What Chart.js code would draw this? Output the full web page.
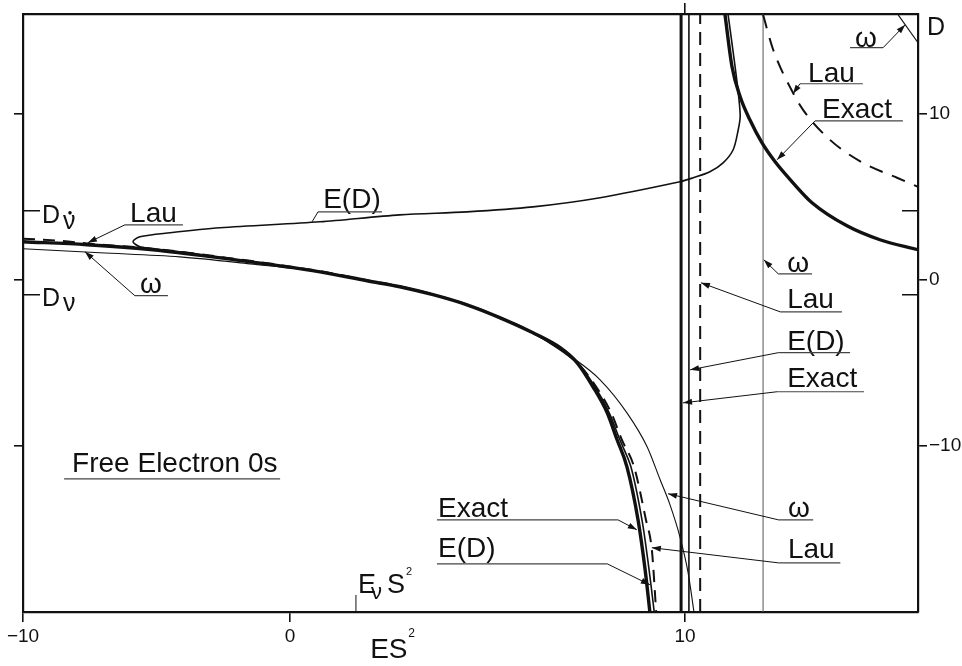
<!DOCTYPE html>
<html lang="en">
<head>
    <meta charset="UTF-8">
    <title>Free Electron 0s</title>
    <script src="https://cdn.jsdelivr.net/npm/chart.js"></script>
    <style>
        body {
            margin: 0;
            background: #fff;
        }
        #wrap {
            width: 962px;
            height: 666px;
        }
    </style>
</head>
<body>
    <div id="wrap"><canvas id="chart" width="962" height="666"></canvas></div>

    <script>
        // axis ticks
        const xTickValues = [-10, 0, 10];
        const xTickLabels = ['−10', '0', '10'];
        const yTickValues = [-10, 0, 10];
        const yTickLabels = ['−10', '0', '10'];

        // curves, [ES², D]
        const exactLower = [[-10, 2.29], [-7.60, 2.11], [-5.13, 1.81], [-2.62, 1.32], [0.76, 0.48], [1.95, -0.06], [2.78, -0.42], [3.62, -0.90], [4.48, -1.51], [5.32, -2.29], [6.15, -3.19], [6.84, -4.09], [7.27, -5.00], [7.67, -6.44], [8.03, -8.01], [8.28, -9.63], [8.53, -11.26], [8.81, -14.45], [8.99, -17.46], [9.11, -20]];
        const exactUpper = [[11.03, 15.95], [11.21, 12.82], [11.42, 11.02], [11.67, 9.63], [11.98, 8.25], [12.32, 7.10], [12.78, 5.84], [13.27, 4.64], [14.17, 3.25], [15.02, 2.41], [16.0, 1.81]];
        const edCurve = [[11.11, 15.95], [11.29, 12.82], [11.39, 10.84], [11.42, 9.81], [11.37, 9.03], [11.24, 7.83], [10.98, 7.04], [10.64, 6.50], [10.21, 6.14], [9.87, 5.90], [7.85, 4.94], [6.15, 4.39], [4.48, 4.09], [2.78, 3.91], [0.76, 3.49], [-2.62, 3.13], [-4.49, 2.83], [-5.62, 2.59], [-5.88, 2.29], [-5.62, 1.99], [-4.87, 1.81], [-3.86, 1.63], [-2.62, 1.35], [0.76, 0.50], [1.95, -0.05], [2.78, -0.41], [3.62, -0.89], [4.48, -1.50], [5.32, -2.28], [6.15, -3.19], [7.27, -5.00], [7.72, -6.44], [8.08, -8.01], [8.35, -9.63], [8.63, -11.26], [8.91, -14.45], [9.09, -17.46], [9.22, -20]];
        const lauLower = [[-10, 2.47], [-8.61, 2.35], [-7.49, 2.17], [-5.13, 1.87], [-2.62, 1.38], [0.76, 0.52], [1.95, -0.03], [2.78, -0.39], [3.62, -0.88], [4.48, -1.49], [5.32, -2.27], [6.15, -3.19], [7.27, -5.00], [7.75, -6.44], [8.13, -8.01], [8.40, -9.63], [8.71, -11.26], [9.01, -14.45], [9.16, -16.26], [9.27, -20]];
        const lauUpper = [[12.01, 15.95], [12.27, 13.85], [12.78, 11.26], [13.04, 10.23], [13.73, 8.43], [14.58, 7.04], [15.46, 6.14], [16.0, 5.60]];
        const omegaLower = [[-10, 1.87], [-7.12, 1.63], [-4.12, 1.38], [-1.50, 0.96], [0.76, 0.48], [1.95, -0.06], [2.78, -0.42], [3.62, -0.90], [4.48, -1.51], [5.32, -2.29], [6.15, -3.19], [7.16, -4.70], [7.85, -6.02], [8.53, -8.01], [9.04, -10.05], [9.37, -12.04], [9.62, -13.55], [9.87, -15.47], [10.08, -17.64], [10.23, -20]];
        const omegaUpper = [[15.49, 15.95], [16.0, 14.27]];

        // vertical asymptotes (ES² values)
        const exactPole = 9.90;
        const edPole = 10.10;
        const lauPole = 10.39;
        const omegaPole = 12.01;

        // D values marked on the side axes, and the E_v S² mark
        const dNuDot = 4.15;
        const dNu = -0.9;
        const eNuS2 = 1.67;

        // the ES² axis is not uniform: -10..0 is shorter than 0..10
        const xBreakValues = [-10, 0, 10, 16];
        const xBreakFrac = [0, 0.2983, 0.7397, 1];

        function toFrac(v) {
            for (let i = 1; i < xBreakValues.length; i++) {
                if (v <= xBreakValues[i] || i === xBreakValues.length - 1) {
                    const a = xBreakValues[i - 1], b = xBreakValues[i];
                    return xBreakFrac[i - 1] + (v - a) / (b - a) * (xBreakFrac[i] - xBreakFrac[i - 1]);
                }
            }
        }
        function fromFrac(f) {
            for (let i = 1; i < xBreakFrac.length; i++) {
                if (f <= xBreakFrac[i] || i === xBreakFrac.length - 1) {
                    const a = xBreakFrac[i - 1], b = xBreakFrac[i];
                    return xBreakValues[i - 1] + (f - a) / (b - a) * (xBreakValues[i] - xBreakValues[i - 1]);
                }
            }
        }

        class PiecewiseScale extends Chart.LinearScale {
            getPixelForValue(value) {
                if (value === null || value === undefined) return NaN;
                return this.getPixelForDecimal(toFrac(value));
            }
            getValueForPixel(pixel) {
                return fromFrac(this.getDecimalForPixel(pixel));
            }
        }
        PiecewiseScale.id = 'piecewise';
        PiecewiseScale.defaults = {};
        Chart.register(PiecewiseScale);

        const ink = '#111';
        const FONT = '"Liberation Sans", Arial, sans-serif';

        // text labels with underline and leader line, all in data units
        const notes = [
            { text: 'Lau', x: -5.99, y: 3.49, line: [-6.18, -4.01, 3.31], tip: [-7.57, 2.23], arrow: true },
            { text: 'ω', x: -5.62, y: -0.78, line: [-5.81, -4.57, -0.96], tip: [-7.68, 1.69], arrow: true },
            { text: 'E(D)', x: 0.84, y: 4.33, line: [0.71, 2.33, 4.09], tip: [0.56, 3.49], arrow: false },
            { text: 'Free Electron 0s', x: -8.16, y: -11.56, line: [-8.46, -0.37, -11.98] },
            { text: 'Exact', x: 3.75, y: -14.27, line: [3.72, 8.30, -14.45], tip: [8.78, -15.05], arrow: true, fromEnd: true },
            { text: 'E(D)', x: 3.75, y: -16.68, line: [3.72, 8.03, -17.10], tip: [9.11, -18.36], arrow: true, fromEnd: true },
            { text: 'ω', x: 12.65, y: -14.27, line: [12.40, 13.30, -14.45], tip: [9.57, -12.88], arrow: true },
            { text: 'Lau', x: 12.65, y: -16.74, line: [12.40, 14.0, -17.04], tip: [9.16, -16.13], arrow: true },
            { text: 'Exact', x: 12.63, y: -6.44, line: [12.37, 14.61, -6.74], tip: [9.95, -7.41], arrow: true },
            { text: 'E(D)', x: 12.63, y: -4.21, line: [12.40, 14.25, -4.39], tip: [10.13, -5.42], arrow: true },
            { text: 'Lau', x: 12.63, y: -1.69, line: [12.45, 14.04, -1.93], tip: [10.41, -0.18], arrow: true },
            { text: 'ω', x: 12.63, y: 0.48, line: [12.40, 13.27, 0.36], tip: [12.03, 1.20], arrow: true },
            { text: 'Exact', x: 13.53, y: 9.75, line: [13.35, 15.61, 9.57], tip: [12.37, 7.22], arrow: true },
            { text: 'Lau', x: 13.17, y: 11.92, line: [12.96, 14.58, 11.80], tip: [12.78, 11.20], arrow: true },
            { text: 'ω', x: 14.38, y: 14.03, line: [14.25, 15.10, 13.97], tip: [15.67, 15.35], arrow: true, fromEnd: true }
        ];

        function toPoints(arr) {
            return arr.map(p => ({ x: p[0], y: p[1] }));
        }
        function vertical(x) {
            return [{ x: x, y: -20 }, { x: x, y: 16 }];
        }

        function arrowHead(ctx, x0, y0, x1, y1) {
            const ang = Math.atan2(y1 - y0, x1 - x0);
            const len = 9, half = 3;
            ctx.beginPath();
            ctx.moveTo(x1, y1);
            ctx.lineTo(x1 - len * Math.cos(ang) + half * Math.sin(ang), y1 - len * Math.sin(ang) - half * Math.cos(ang));
            ctx.lineTo(x1 - len * Math.cos(ang) - half * Math.sin(ang), y1 - len * Math.sin(ang) + half * Math.cos(ang));
            ctx.closePath();
            ctx.fill();
        }

        const notesPlugin = {
            id: 'notes',
            afterDraw(chart) {
                const ctx = chart.ctx;
                const x = chart.scales.x, y = chart.scales.y;
                const area = chart.chartArea;
                ctx.save();
                ctx.fillStyle = ink;
                ctx.strokeStyle = ink;
                ctx.textBaseline = 'alphabetic';
                ctx.textAlign = 'left';

                notes.forEach(n => {
                    ctx.font = '28px ' + FONT;
                    ctx.fillText(n.text, x.getPixelForValue(n.x), y.getPixelForValue(n.y));
                    const x0 = x.getPixelForValue(n.line[0]);
                    const x1 = x.getPixelForValue(n.line[1]);
                    const yl = y.getPixelForValue(n.line[2]);
                    ctx.strokeStyle = '#444';
                    ctx.lineWidth = 1.2;
                    ctx.beginPath();
                    ctx.moveTo(x0, yl);
                    ctx.lineTo(x1, yl);
                    ctx.stroke();
                    if (n.tip) {
                        const sx = n.fromEnd ? x1 : x0;
                        const tx = x.getPixelForValue(n.tip[0]);
                        const ty = y.getPixelForValue(n.tip[1]);
                        ctx.strokeStyle = ink;
                        ctx.lineWidth = 1;
                        ctx.beginPath();
                        ctx.moveTo(sx, yl);
                        ctx.lineTo(tx, ty);
                        ctx.stroke();
                        if (n.arrow) arrowHead(ctx, sx, yl, tx, ty);
                    }
                });

                // D values on both side axes
                ctx.strokeStyle = ink;
                ctx.lineWidth = 1.5;
                [dNuDot, dNu].forEach(v => {
                    const py = y.getPixelForValue(v);
                    ctx.beginPath();
                    ctx.moveTo(area.left, py);
                    ctx.lineTo(area.left + 17, py);
                    ctx.moveTo(area.right - 16, py);
                    ctx.lineTo(area.right, py);
                    ctx.stroke();
                });
                ctx.font = '25px ' + FONT;
                const yDot = y.getPixelForValue(dNuDot);
                const yNu = y.getPixelForValue(dNu);
                ctx.fillText('D', area.left + 19, yDot + 12);
                ctx.fillText('ν', area.left + 40, yDot + 18);
                ctx.beginPath();
                ctx.arc(area.left + 47, yDot + 2, 1.8, 0, Math.PI * 2);
                ctx.fill();
                ctx.fillText('D', area.left + 19, yNu + 11);
                ctx.fillText('ν', area.left + 40, yNu + 16);

                // D axis name on the right
                ctx.fillText('D', area.right + 9, y.getPixelForValue(14.75));

                // E_v S² mark on the ES² axis
                const ex = x.getPixelForValue(eNuS2);
                ctx.lineWidth = 1;
                ctx.beginPath();
                ctx.moveTo(ex, area.bottom);
                ctx.lineTo(ex, area.bottom - 17);
                ctx.stroke();
                const ey = area.bottom - 19;
                ctx.font = '27px ' + FONT;
                ctx.fillText('E', ex + 2, ey);
                ctx.font = '22px ' + FONT;
                ctx.fillText('ν', ex + 15, ey + 6);
                ctx.font = '27px ' + FONT;
                ctx.fillText('S', ex + 31, ey);
                ctx.font = '11px ' + FONT;
                ctx.fillText('2', ex + 50, ey - 18);

                // axis title ES²
                const tx = x.getPixelForValue(2.03);
                ctx.font = '28px ' + FONT;
                ctx.fillText('ES', tx, area.bottom + 46);
                ctx.font = '12px ' + FONT;
                ctx.fillText('2', tx + 38, area.bottom + 25);

                ctx.restore();
            }
        };

        function axisStyle(extra) {
            return Object.assign({
                grid: { display: true, drawOnChartArea: false, drawTicks: true, tickLength: 9, color: ink, lineWidth: 1.6 },
                border: { display: true, color: ink, width: 2.2 }
            }, extra);
        }

        const ctx = document.getElementById('chart').getContext('2d');
        const chart = new Chart(ctx, {
            type: 'scatter',
            data: {
                datasets: [
                    { label: 'Exact', data: toPoints(exactLower), borderColor: ink, borderWidth: 3.4, cubicInterpolationMode: 'monotone', order: 0 },
                    { label: 'Exact', data: toPoints(exactUpper), borderColor: ink, borderWidth: 3.4, cubicInterpolationMode: 'monotone', order: 0 },
                    { label: 'Exact pole', data: vertical(exactPole), borderColor: ink, borderWidth: 3, order: 0 },
                    { label: 'E(D)', data: toPoints(edCurve), borderColor: ink, borderWidth: 1.6, tension: 0.3, order: 1 },
                    { label: 'E(D) pole', data: vertical(edPole), borderColor: ink, borderWidth: 1.6, order: 1 },
                    { label: 'Lau', data: toPoints(lauLower), borderColor: ink, borderWidth: 2, borderDash: [12, 8], cubicInterpolationMode: 'monotone', order: 2 },
                    { label: 'Lau', data: toPoints(lauUpper), borderColor: ink, borderWidth: 2, borderDash: [14, 10], cubicInterpolationMode: 'monotone', order: 2 },
                    { label: 'Lau pole', data: vertical(lauPole), borderColor: ink, borderWidth: 2, borderDash: [13, 8], order: 2 },
                    { label: 'ω', data: toPoints(omegaLower), borderColor: ink, borderWidth: 1.1, cubicInterpolationMode: 'monotone', order: 3 },
                    { label: 'ω', data: toPoints(omegaUpper), borderColor: ink, borderWidth: 1.1, order: 3 },
                    { label: 'ω pole', data: vertical(omegaPole), borderColor: '#555', borderWidth: 1, order: 3 }
                ].map(d => Object.assign({ showLine: true, pointRadius: 0, fill: false }, d))
            },
            plugins: [notesPlugin],
            options: {
                responsive: false,
                animation: false,
                layout: { padding: 0 },
                plugins: {
                    legend: { display: false },
                    tooltip: { enabled: false }
                },
                scales: {
                    x: axisStyle({
                        type: 'piecewise',
                        position: 'bottom',
                        min: -10,
                        max: 16,
                        grid: { display: true, drawOnChartArea: false, drawTicks: true, tickLength: 10, color: ink, lineWidth: 1.6 },
                        ticks: {
                            color: ink,
                            font: { family: FONT, size: 19 },
                            padding: 3,
                            maxRotation: 0,
                            callback: v => {
                                const i = xTickValues.indexOf(v);
                                return i >= 0 ? xTickLabels[i] : '';
                            }
                        },
                        afterBuildTicks: s => { s.ticks = xTickValues.map(v => ({ value: v })); },
                        afterFit: s => { s.height = 54; }
                    }),
                    xTop: axisStyle({
                        type: 'piecewise',
                        position: 'top',
                        min: -10,
                        max: 16,
                        grid: { display: true, drawOnChartArea: false, drawTicks: true, tickLength: 11, color: ink, lineWidth: 1.6 },
                        ticks: { callback: () => '' },
                        afterBuildTicks: s => { s.ticks = [{ value: 10 }]; },
                        afterFit: s => { s.height = 14; }
                    }),
                    y: axisStyle({
                        position: 'left',
                        min: -20,
                        max: 16,
                        ticks: { callback: () => '' },
                        afterBuildTicks: s => { s.ticks = yTickValues.map(v => ({ value: v })); },
                        afterFit: s => { s.width = 23; }
                    }),
                    y2: axisStyle({
                        position: 'right',
                        min: -20,
                        max: 16,
                        ticks: {
                            color: ink,
                            font: { family: FONT, size: 19 },
                            padding: 2,
                            callback: v => {
                                const i = yTickValues.indexOf(v);
                                return i >= 0 ? yTickLabels[i] : '';
                            }
                        },
                        afterBuildTicks: s => { s.ticks = yTickValues.map(v => ({ value: v })); },
                        afterFit: s => { s.width = 44; }
                    })
                }
            }
        });
    </script>
</body>
</html>
